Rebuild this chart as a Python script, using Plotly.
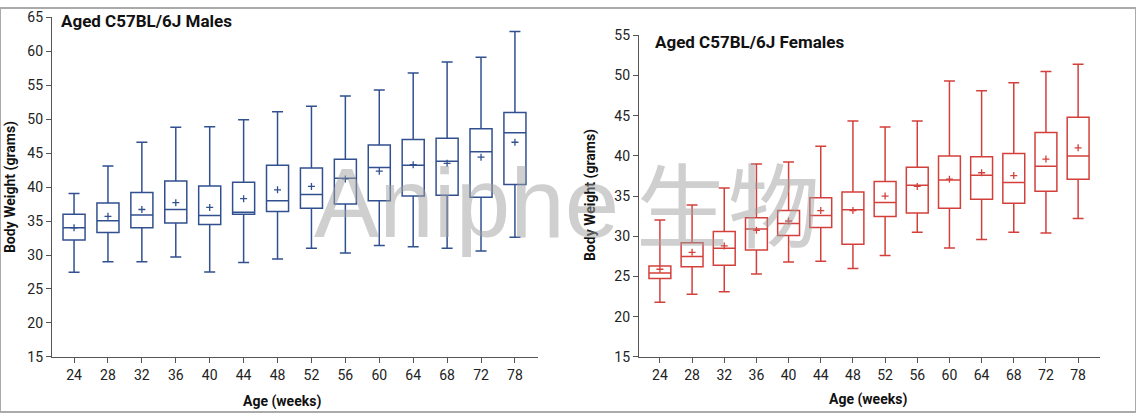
import plotly.graph_objects as go

W, H = 1136, 420

ages = ["24", "28", "32", "36", "40", "44", "48", "52", "56", "60", "64", "68", "72", "78"]

male_low = [27.45, 29.0, 29.0, 29.7, 27.5, 28.9, 29.4, 31.0, 30.3, 31.4, 31.2, 31.0, 30.6, 32.6]
male_q1 = [32.2, 33.3, 34.0, 34.7, 34.5, 36.0, 36.4, 36.9, 37.5, 38.0, 38.7, 38.8, 38.5, 40.4]
male_median = [34.0, 35.05, 35.9, 36.7, 35.8, 36.3, 38.0, 38.9, 41.3, 42.9, 43.2, 43.8, 45.2, 48.0]
male_q3 = [36.0, 37.65, 39.2, 40.9, 40.15, 40.7, 43.2, 42.8, 44.1, 46.2, 47.0, 47.2, 48.6, 51.0]
male_high = [39.05, 43.1, 46.6, 48.8, 48.9, 49.9, 51.1, 51.9, 53.4, 54.3, 56.8, 58.4, 59.1, 62.9]
male_mean = [34.0, 35.7, 36.7, 37.7, 37.0, 38.3, 39.6, 40.1, 41.2, 42.35, 43.3, 43.5, 44.4, 46.6]

female_low = [21.8, 22.8, 23.1, 25.3, 26.8, 26.9, 26.0, 27.6, 30.5, 28.55, 29.6, 30.5, 30.4, 32.2]
female_q1 = [24.75, 26.2, 26.4, 28.3, 30.1, 31.1, 29.0, 32.45, 32.9, 33.5, 34.6, 34.1, 35.6, 37.1]
female_median = [25.45, 27.5, 28.5, 30.9, 31.6, 32.6, 33.3, 34.2, 36.35, 37.0, 37.6, 36.7, 38.7, 40.0]
female_q3 = [26.3, 29.2, 30.6, 32.3, 33.2, 34.8, 35.5, 36.8, 38.6, 40.0, 39.9, 40.3, 42.9, 44.8]
female_high = [32.04, 33.9, 36.0, 39.0, 39.25, 41.2, 44.35, 43.6, 44.35, 49.3, 48.1, 49.1, 50.5, 51.4]
female_mean = [25.9, 28.0, 28.8, 30.75, 31.9, 33.2, 33.2, 35.0, 36.2, 37.1, 37.9, 37.55, 39.6, 41.0]

MALE_C = "#31508f"
FEMALE_C = "#d3403b"

fig = go.Figure()

fig.add_trace(go.Box(
    x=ages, q1=male_q1, median=male_median, q3=male_q3,
    lowerfence=male_low, upperfence=male_high,
    xaxis="x", yaxis="y", width=0.65, whiskerwidth=0.5,
    line=dict(color=MALE_C, width=1.5), fillcolor="rgba(255,255,255,0)",
    boxpoints=False, showlegend=False, hoverinfo="skip"))
fig.add_trace(go.Scatter(
    x=ages, y=male_mean, mode="markers", xaxis="x", yaxis="y",
    marker=dict(symbol="cross-thin", size=5, line=dict(color=MALE_C, width=1.3)),
    showlegend=False, hoverinfo="skip"))

fig.add_trace(go.Box(
    x=ages, q1=female_q1, median=female_median, q3=female_q3,
    lowerfence=female_low, upperfence=female_high,
    xaxis="x2", yaxis="y2", width=0.68, whiskerwidth=0.5,
    line=dict(color=FEMALE_C, width=1.5), fillcolor="rgba(255,255,255,0)",
    boxpoints=False, showlegend=False, hoverinfo="skip"))
fig.add_trace(go.Scatter(
    x=ages, y=female_mean, mode="markers", xaxis="x2", yaxis="y2",
    marker=dict(symbol="cross-thin", size=5, line=dict(color=FEMALE_C, width=1.3)),
    showlegend=False, hoverinfo="skip"))

FONT = "Roboto"
tickfont = dict(family=FONT, size=14, color="#222")
axline = dict(showline=True, linecolor="#555", linewidth=1.3, ticks="outside",
              ticklen=5, tickcolor="#555", tickwidth=1.3, showgrid=False,
              zeroline=False, tickfont=tickfont)

# the viewer shows the page slightly squeezed vertically (about 0.963, offset ~7.7 px);
# positions below are the target picture positions, mapped back to figure pixels
SY, OY = 0.963, 7.7

def px(x):
    return x / W

def py(y):
    return 1 - ((y - OY) / SY) / H

fig.update_layout(
    width=W, height=H,
    margin=dict(l=0, r=0, t=0, b=0),
    paper_bgcolor="white", plot_bgcolor="white",
    xaxis=dict(domain=[px(52), px(538)], anchor="y", type="category",
               categoryorder="array", categoryarray=ages,
               range=[-0.65, 13.68], **axline),
    yaxis=dict(domain=[py(357), py(17)], anchor="x", range=[15, 65],
               tickvals=list(range(15, 70, 5)), **axline),
    xaxis2=dict(domain=[px(639), px(1100)], anchor="y2", type="category",
                categoryorder="array", categoryarray=ages,
                range=[-0.65, 13.68], **axline),
    yaxis2=dict(domain=[py(357), py(35)], anchor="x2", range=[15, 55],
                tickvals=list(range(15, 60, 5)), **axline),
)

bold = dict(family=FONT, size=17, color="#111")
lab = dict(family=FONT, size=14, color="#111")
ann = [
    dict(text="<b>Aged C57BL/6J Males</b>", x=px(59), y=py(21), xanchor="left",
         yanchor="middle", font=bold),
    dict(text="<b>Aged C57BL/6J Females</b>", x=px(653), y=py(42), xanchor="left",
         yanchor="middle", font=bold),
    dict(text="<b>Body Weight (grams)</b>", x=px(10), y=py(187), textangle=-90,
         xanchor="center", yanchor="middle", font=lab),
    dict(text="<b>Body Weight (grams)</b>", x=px(590), y=py(195), textangle=-90,
         xanchor="center", yanchor="middle", font=lab),
    dict(text="<b>Age (weeks)</b>", x=px(282), y=py(402), xanchor="center",
         yanchor="middle", font=dict(family=FONT, size=14, color="#111")),
    dict(text="<b>Age (weeks)</b>", x=px(868), y=py(400), xanchor="center",
         yanchor="middle", font=dict(family=FONT, size=14, color="#111")),
    dict(text="Aniphe", x=px(312), y=py(203), xanchor="left", yanchor="middle",
         font=dict(family="Liberation Sans", size=98, color="rgba(160,160,160,0.5)")),
    dict(text="生物", x=px(634), y=py(200), xanchor="left", yanchor="middle",
         font=dict(family="Noto Sans CJK SC", size=92, color="rgba(160,160,160,0.5)")),
]
for a in ann:
    a.update(xref="paper", yref="paper", showarrow=False)
fig.update_layout(annotations=ann)

fig.add_shape(type="rect", xref="paper", yref="paper", x0=0, y0=0, x1=1, y1=1,
              line=dict(color="#aaaaaa", width=2), fillcolor="rgba(0,0,0,0)")

post = (
    "var s=document.createElement('style');"
    "s.textContent='html,body{margin:0!important;padding:0!important;overflow:hidden;"
    "width:1136px;height:420px;}';"
    "document.head.appendChild(s);"
    "var g=document.getElementsByClassName('plotly-graph-div')[0];"
    "g.style.position='absolute';g.style.top='0px';g.style.left='0px';"
)

fig.write_html("out.html", config={"displayModeBar": False}, post_script=post)
